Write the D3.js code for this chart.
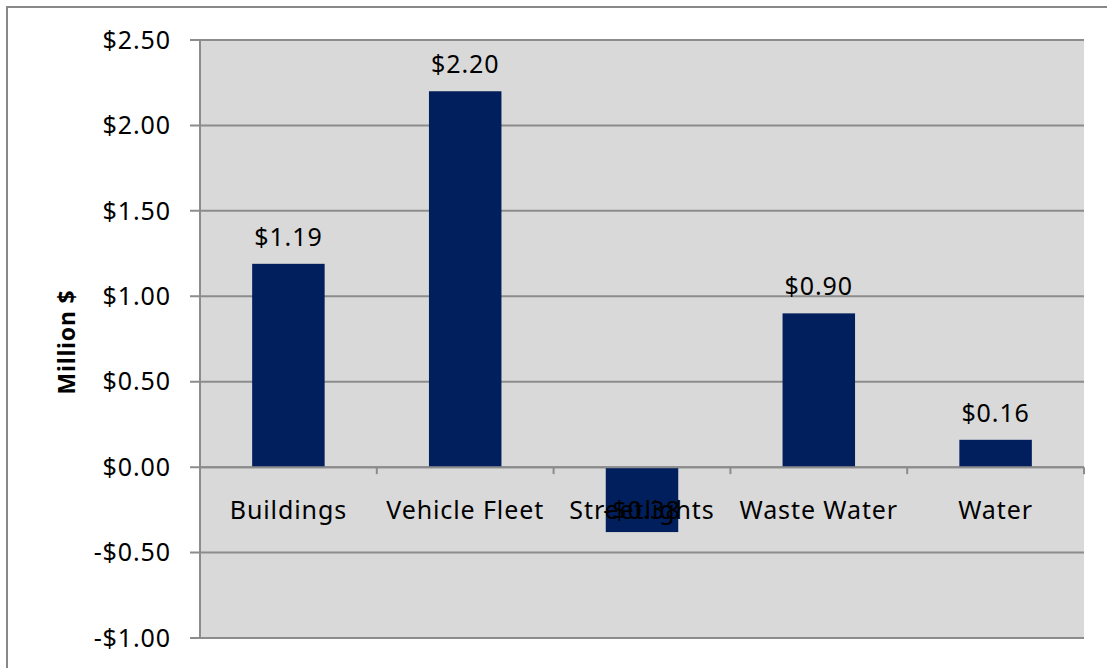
<!DOCTYPE html>
<html><head><meta charset="utf-8">
<script src="https://cdn.jsdelivr.net/npm/d3@7"></script>
<style>body{margin:0;background:#fff;}svg{display:block;font-family:"Noto Sans",sans-serif;}</style>
</head><body>
<svg id="c" width="1107" height="668"></svg>
<script>
const categories = ["Buildings","Vehicle Fleet","Streetlights","Waste Water","Water"];
const values = [1.19, 2.20, -0.38, 0.90, 0.16];
const labels = ["$1.19","$2.20","-$0.38","$0.90","$0.16"];
const yTicks = [-1.0,-0.5,0,0.5,1.0,1.5,2.0,2.5];
const yTickLabels = ["-$1.00","-$0.50","$0.00","$0.50","$1.00","$1.50","$2.00","$2.50"];
const yTitle = "Million $";

const svg = d3.select("#c");
const L=200,R=1084,T=40,B=638;
const FS=25, LS="0.9px";
svg.append("rect").attr("x",7).attr("y",7).attr("width",1120).attr("height",700)
  .attr("fill","#fff").attr("stroke","#888").attr("stroke-width",2);
svg.append("rect").attr("x",L).attr("y",T).attr("width",R-L).attr("height",B-T).attr("fill","#d9d9d9");

const y = d3.scaleLinear().domain([-1,2.5]).range([B,T]);
const x = d3.scaleBand().domain(categories).range([L,R]).paddingInner(0.59).paddingOuter(0.295);

// gridlines
svg.append("g").selectAll("line").data(yTicks).join("line")
  .attr("x1",L-10).attr("x2",R).attr("y1",d=>y(d)).attr("y2",d=>y(d))
  .attr("stroke","#8c8c8c").attr("stroke-width",2);
// y axis line
svg.append("line").attr("x1",L).attr("x2",L).attr("y1",T).attr("y2",B).attr("stroke","#8c8c8c").attr("stroke-width",2);

// y labels
svg.append("g").selectAll("text").data(yTicks).join("text")
  .attr("x",171).attr("y",d=>y(d)).attr("dy","0.35em").attr("text-anchor","end")
  .attr("font-size",FS).attr("letter-spacing",LS).attr("fill","#000").text((d,i)=>yTickLabels[i]);

// bars
svg.append("g").selectAll("rect").data(values).join("rect")
  .attr("x",(d,i)=>x(categories[i])).attr("width",x.bandwidth())
  .attr("y",d=>y(Math.max(0,d))).attr("height",d=>Math.abs(y(d)-y(0)))
  .attr("fill","#001f5c");

// zero line + ticks
const step = (R-L)/categories.length;
svg.append("line").attr("x1",L).attr("x2",R).attr("y1",y(0)).attr("y2",y(0)).attr("stroke","#8c8c8c").attr("stroke-width",2);
svg.append("g").selectAll("line").data(d3.range(categories.length+1)).join("line")
  .attr("x1",i=>L+i*step).attr("x2",i=>L+i*step).attr("y1",y(0)).attr("y2",y(0)+7)
  .attr("stroke","#8c8c8c").attr("stroke-width",2);

// category labels
svg.append("g").selectAll("text").data(categories).join("text")
  .attr("x",d=>x(d)+x.bandwidth()/2).attr("y",519).attr("text-anchor","middle")
  .attr("font-size",FS).attr("letter-spacing",LS).attr("fill","#000").text(d=>d);

// value labels
svg.append("g").selectAll("text").data(values).join("text")
  .attr("x",(d,i)=>x(categories[i])+x.bandwidth()/2)
  .attr("y",d=>d>=0 ? y(d)-18 : y(d)-13).attr("text-anchor","middle")
  .attr("font-size",FS).attr("letter-spacing",LS).attr("fill","#000").text((d,i)=>labels[i]);

// title
svg.append("text").attr("transform","translate(75,342) rotate(-90)").attr("text-anchor","middle")
  .attr("font-size",23).attr("letter-spacing","0.8px").attr("font-weight","bold").text(yTitle);
</script>
</body></html>
